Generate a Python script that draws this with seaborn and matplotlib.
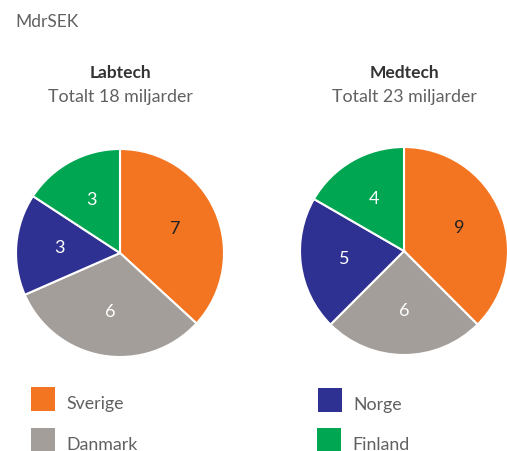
import matplotlib
matplotlib.use("Agg")
import matplotlib.pyplot as plt
import seaborn as sns
from matplotlib.patches import Rectangle

sns.set_theme(style="white")
plt.rcParams['font.family'] = ['Lato', 'DejaVu Sans']

countries = ["Sverige", "Danmark", "Norge", "Finland"]
labtech = [7, 6, 3, 3]
medtech = [9, 6, 5, 4]
titles = ["Labtech", "Medtech"]
subtitles = ["Totalt 18 miljarder", "Totalt 23 miljarder"]
unit = "MdrSEK"

palette = ["#F47521", "#A39E99", "#2E3192", "#00A651"]
label_colors = ["#222222", "white", "white", "white"]
text_grey = "#606060"
W8 = "normal"

W, H = 507, 451
fig = plt.figure(figsize=(W / 100, H / 100), dpi=100)
fig.patch.set_facecolor("white")

def fx(x):
    return x / W

def fy(y):
    return 1 - y / H

fig.text(fx(15), fy(22), unit, ha="left", va="center", fontsize=12.5,
         color=text_grey, fontweight=W8)

pie_boxes = [(16, 149, 208), (300, 147, 208)]
title_x = [120, 404]
for data, title, sub, box, tx in zip([labtech, medtech], titles, subtitles, pie_boxes, title_x):
    left, top, size = box
    ax = fig.add_axes([fx(left), fy(top + size), size / W, size / H])
    total = sum(data)
    wedges, texts, autotexts = ax.pie(
        data, colors=palette, startangle=90, counterclock=False,
        autopct=lambda p, t=total: f"{round(p * t / 100):d}",
        pctdistance=0.58,
        wedgeprops=dict(edgecolor="white", linewidth=1.5),
        textprops=dict(fontsize=13, fontweight=W8),
    )
    for at, c in zip(autotexts, label_colors):
        at.set_color(c)
    ax.set_xlim(-1.0, 1.0)
    ax.set_ylim(-1.0, 1.0)
    ax.set_aspect("equal")
    ax.axis("off")
    fig.text(fx(tx), fy(73), title, ha="center", va="center", fontsize=12.5,
             fontweight="bold", color="#333333")
    fig.text(fx(tx), fy(97), sub, ha="center", va="center", fontsize=12.8,
             color=text_grey, fontweight=W8)

legend_pos = [(31, 387), (31, 428), (318, 388), (317, 428)]
for name, col, (lx, ly) in zip(countries, palette, legend_pos):
    fig.patches.append(Rectangle((fx(lx), fy(ly + 24)), 24 / W, 24 / H,
                                 transform=fig.transFigure, facecolor=col,
                                 edgecolor="none"))
    fig.text(fx(lx + 35), fy(ly + 17), name, ha="left", va="center",
             fontsize=12.8, color=text_grey, fontweight=W8)

fig.savefig("out.png", dpi=100, facecolor="white")
